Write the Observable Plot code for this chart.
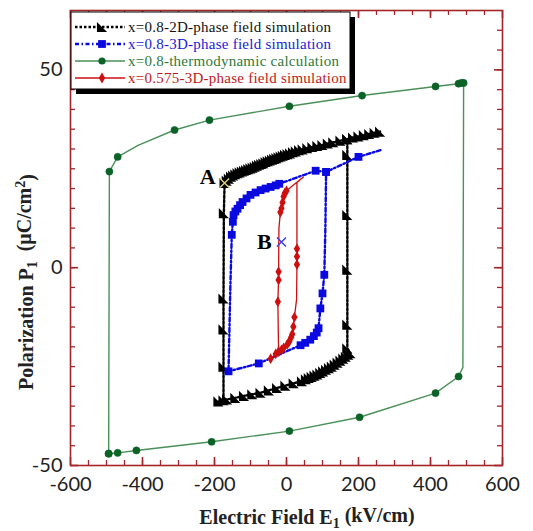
<!DOCTYPE html>
<html>
<head>
<meta charset="utf-8">
<script src="https://cdn.jsdelivr.net/npm/d3@7"></script>
<script src="https://cdn.jsdelivr.net/npm/@observablehq/plot@0.6"></script>
<style>
  html, body { margin: 0; padding: 0; background: #fff; }
  #chart { width: 533px; height: 531px; }
</style>
</head>
<body>
<div id="chart"></div>
<script>
// ---------------- DATA ----------------
const seriesNames = [
  "x=0.8-2D-phase field simulation",
  "x=0.8-3D-phase field simulation",
  "x=0.8-thermodynamic calculation",
  "x=0.575-3D-phase field simulation"
];

// x=0.8 2D phase field (black, triangles) - path order
const twoDE = [260,245,230,215,200,185,169,
  169,169,169,169,169,
  178,172,165,158,150,142,134,126,118,110,102,94,86,78,70,62,54,43,20,-3,-26,-49,-72,-95,-118,-142,-165,-189,
  -175,-175,-175,-175,-174,-172,
  -166,-160,-154,-148,-142,-136,-130,-124,-118,-112,-106,-100,-94,-88,-82,-76,-70,-64,-58,-52,-46,-40,-34,-28,-22,-16,-10,-4,3,10,18,26,35,45,58,72,86,100,115,130,150,169];
const twoDP = [34.4,34.1,33.8,33.5,33.2,32.9,32.5,
  28.5,13.3,-0.5,-14.4,-20.4,
  -21.6,-22,-22.5,-23,-23.5,-24,-24.5,-25,-25.4,-25.8,-26.2,-26.6,-27,-27.3,-27.6,-27.9,-28.2,-28.7,-29.2,-29.8,-30.4,-31,-31.6,-32,-32.4,-32.9,-33.3,-33.8,
  -33.5,-25,-15.6,-7.8,13.8,21.4,
  22,22.5,23,23.3,23.6,23.9,24.1,24.3,24.5,24.7,24.9,25.1,25.3,25.5,25.8,26,26.2,26.4,26.7,26.9,27.1,27.3,27.5,27.7,27.9,28.1,28.3,28.5,28.7,28.9,29.2,29.4,29.7,29.9,30.2,30.5,30.8,31,31.4,31.7,32.1,32.5];

// x=0.8 3D phase field (blue, squares) - path order
const threeDE = [261,200,110,108,105,100,94,89,84,76,66,52,39,-77,-161,-156,-152,-149,-147,-142,-136,-129,-122,-111,-100,-86,-72,-58,-44,-30,-20,81,110];
const threeDP = [29.7,28,24.2,10,-1.8,-6.5,-10.3,-15.3,-16.4,-17.3,-18.2,-19,-19.6,-24.2,-26.2,-5,8.3,11.6,13.3,14.2,14.9,15.8,16.6,17.5,18.4,19,19.6,20,20.4,20.8,21.2,24.5,24.2];
const threeDMarked = [0,1,1,0,1,1,1,1,1,1,1,1,1,1,1,0,1,1,1,1,1,1,1,1,1,1,1,1,1,1,1,1,1];

// x=0.8 thermodynamic (green, circles) - path order
const thermoE = [-494,-492,-469,-411,-311,-214,8,210,414,478,486,492,490,478,414,203,8,-208,-417,-469,-494];
const thermoP = [-47,24.3,28,31,34.8,37.3,40.8,43.5,45.8,46.5,46.7,46.7,-25.2,-27.5,-31.7,-37.8,-41.3,-44,-46.2,-46.8,-47];
const thermoMarked = [1,1,1,0,1,1,1,1,1,1,1,1,0,1,1,1,1,1,1,1,1];

// x=0.575 3D phase field (red, diamonds) - path order
const lowXE = [-44,-30,-22,-14,-8,2,8,13,16,19,22,28,29,29,29,29,47,15,0,-5,-8,-11,-14,-17,-21,-22,-22,-24,-22];
const lowXP = [-23,-21.8,-21.2,-20.8,-20.3,-19.4,-18.6,-17.6,-16.8,-14.9,-12.5,-8,0.8,2.8,4.8,21.5,22.9,20.6,19.4,18.8,18,16.5,15,14,10,-1,-3.1,-8.6,-21.2];
const lowXMarked = [1,1,1,1,1,1,1,1,1,1,1,0,1,1,1,0,0,0,1,1,1,1,1,1,0,1,1,1,0];

// annotations
const annLabels = ["A", "B"];
const annE = [-172, -14];
const annP = [21.4, 6.5];

// axes
const xTickLabels = [-600, -400, -200, 0, 200, 400, 600];
const yTickLabels = [-50, 0, 50];
const xMinorTicks = d3.range(-550, 600, 50);
const yMinorTicks = d3.range(-45, 65, 5);

// ---------------- STYLE / LAYOUT ----------------
const W = 533, H = 531, mL = 70, mR = 31, mT = 10, mB = 66;
const fw = W - mL - mR, fh = H - mT - mB;
const axisColor = "#a3262a";
const colBlack = "#000000", colBlue = "#0a0ae0", colGreenLine = "#4a9058", colGreenDot = "#0b6326", colRed = "#cc1010";
const dashBlack = "2.5,2", dashBlue = "4,2.5,1.5,2.5";

const rows = (E, P, marked) => E.map((e, i) => ({E: e, P: P[i], m: marked ? !!marked[i] : true}));
const twoD = rows(twoDE, twoDP);
const threeD = rows(threeDE, threeDP, threeDMarked);
const thermo = rows(thermoE, thermoP, thermoMarked);
const lowX = rows(lowXE, lowXP, lowXMarked);
const ann = annLabels.map((l, i) => ({label: l, E: annE[i], P: annP[i]}));

// custom right-triangle marker (like the original)
const triSymbol = {
  draw(ctx, size) {
    const a = Math.sqrt(size) / 1.75;
    ctx.moveTo(-a, -a);
    ctx.lineTo(-a, a);
    ctx.lineTo(a, a);
    ctx.closePath();
  }
};

const tickLenMajor = 8, tickLenMinor = 5;
const serif = "'Liberation Serif', 'Times New Roman', serif";

const chart = Plot.plot({
  width: W, height: H,
  marginLeft: mL, marginRight: mR, marginTop: mT, marginBottom: mB,
  style: {fontFamily: "Lato, sans-serif", fontSize: "20px", background: "#fff", color: "#222"},
  x: {domain: [-600, 600]},
  y: {domain: [-50, 65]},
  marks: [
    // inward ticks on all four sides
    Plot.tickX(xMinorTicks, {x: d => d, insetTop: fh - tickLenMinor, stroke: axisColor, strokeWidth: 1.3}),
    Plot.tickX(xMinorTicks, {x: d => d, insetBottom: fh - tickLenMinor, stroke: axisColor, strokeWidth: 1.3}),
    Plot.tickX(xTickLabels, {x: d => d, insetTop: fh - tickLenMajor, stroke: axisColor, strokeWidth: 1.6}),
    Plot.tickX(xTickLabels, {x: d => d, insetBottom: fh - tickLenMajor, stroke: axisColor, strokeWidth: 1.6}),
    Plot.tickY(yMinorTicks, {y: d => d, insetRight: fw - tickLenMinor, stroke: axisColor, strokeWidth: 1.3}),
    Plot.tickY(yMinorTicks, {y: d => d, insetLeft: fw - tickLenMinor, stroke: axisColor, strokeWidth: 1.3}),
    Plot.tickY(yTickLabels, {y: d => d, insetRight: fw - tickLenMajor, stroke: axisColor, strokeWidth: 1.6}),
    Plot.tickY(yTickLabels, {y: d => d, insetLeft: fw - tickLenMajor, stroke: axisColor, strokeWidth: 1.6}),
    Plot.axisX(xTickLabels, {tickSize: 0, tickPadding: 11, label: null, tickFormat: d => String(d), fill: "#222"}),
    Plot.axisY(yTickLabels, {tickSize: 0, tickPadding: 8, label: null, tickFormat: d => String(d), fill: "#222"}),

    // thermodynamic (green)
    Plot.line(thermo, {x: "E", y: "P", stroke: colGreenLine, strokeWidth: 1.4}),
    Plot.dot(thermo.filter(d => d.m), {x: "E", y: "P", r: 3.6, fill: colGreenDot, stroke: colGreenDot, strokeWidth: 0.5}),

    // 2D (black)
    Plot.line(twoD, {x: "E", y: "P", stroke: colBlack, strokeWidth: 2.4, strokeDasharray: dashBlack}),
    Plot.dot(twoD, {x: "E", y: "P", symbol: triSymbol, r: 5, fill: colBlack, stroke: "none"}),

    // 3D (blue)
    Plot.line(threeD, {x: "E", y: "P", stroke: colBlue, strokeWidth: 2.4, strokeDasharray: dashBlue}),
    Plot.dot(threeD.filter(d => d.m), {x: "E", y: "P", symbol: "square", r: 4.4, fill: colBlue, stroke: "none"}),

    // x=0.575 (red)
    Plot.line(lowX, {x: "E", y: "P", stroke: colRed, strokeWidth: 1.3}),
    Plot.dot(lowX.filter(d => d.m), {x: "E", y: "P", symbol: "diamond", r: 3.3, fill: colRed, stroke: "none"}),

    // annotation crosses and labels
    Plot.dot(ann, {x: "E", y: "P", symbol: "times", r: 4.2, stroke: d => d.label === "A" ? "#dcd67e" : "#3a3af0", strokeWidth: 1.4}),
    Plot.text(ann.filter(d => d.label === "A"), {x: "E", y: "P", text: "label", dx: -17, dy: -6, fontFamily: serif, fontWeight: "bold", fontSize: 22, fill: "#000"}),
    Plot.text(ann.filter(d => d.label === "B"), {x: "E", y: "P", text: "label", dx: -17, dy: 0, fontFamily: serif, fontWeight: "bold", fontSize: 22, fill: "#000"}),

    Plot.frame({stroke: axisColor, strokeWidth: 1.6})
  ]
});

document.getElementById("chart").appendChild(chart);

// ---------------- Post: legend + axis titles ----------------
const svg = d3.select(chart);

const lg = svg.append("g").attr("class", "legend");
const bx = 71, by = 12, bw = 279, bh = 77;
lg.append("rect").attr("x", bx + 5).attr("y", by + 5).attr("width", bw).attr("height", bh).attr("fill", "#000");
lg.append("rect").attr("x", bx).attr("y", by).attr("width", bw).attr("height", bh).attr("fill", "#fff").attr("stroke", "#000").attr("stroke-width", 1);

const legendStyles = [
  {color: colBlack, dash: dashBlack, w: 2.4, sym: triSymbol, size: 5 * 5 * Math.PI, markColor: colBlack},
  {color: colBlue, dash: dashBlue, w: 2.4, sym: d3.symbolSquare, size: 4.4 * 4.4 * Math.PI, markColor: colBlue},
  {color: colGreenLine, dash: null, w: 1.4, sym: d3.symbolCircle, size: 3.6 * 3.6 * Math.PI, markColor: colGreenDot},
  {color: colRed, dash: null, w: 1.4, sym: d3.symbolDiamond, size: 3.3 * 3.3 * Math.PI, markColor: colRed}
];
const textColors = ["#111", "#1a1ad8", "#2f7a3a", "#c01818"];
seriesNames.forEach((name, i) => {
  const y = by + 15 + i * 17;
  const st = legendStyles[i];
  lg.append("line").attr("x1", bx + 4).attr("x2", bx + 54).attr("y1", y).attr("y2", y)
    .attr("stroke", st.color).attr("stroke-width", st.w).attr("stroke-dasharray", st.dash);
  lg.append("path").attr("d", d3.symbol(st.sym, st.size)()).attr("transform", `translate(${bx + 31},${y})`).attr("fill", st.markColor);
  lg.append("text").attr("x", bx + 57).attr("y", y).attr("dy", "0.32em").attr("text-anchor", "start")
    .style("font-family", serif).style("font-size", "15px").style("letter-spacing", "0.25px")
    .attr("fill", textColors[i]).text(name);
});

// axis titles
const xt = svg.append("text").attr("x", mL + fw / 2 + 21).attr("y", 524).attr("text-anchor", "middle")
  .style("font-family", serif).style("font-weight", "bold").style("font-size", "20px").attr("fill", "#222");
xt.append("tspan").text("Electric Field E");
xt.append("tspan").attr("dy", "0.3em").style("font-size", "14px").text("1");
xt.append("tspan").attr("dy", "-0.3em").text(" (kV/cm)");

const yt = svg.append("text").attr("transform", `translate(33,${282}) rotate(-90)`).attr("text-anchor", "middle")
  .style("font-family", serif).style("font-weight", "bold").style("font-size", "20px").attr("fill", "#222");
yt.append("tspan").text("Polarization P");
yt.append("tspan").attr("dy", "0.3em").style("font-size", "14px").text("1");
yt.append("tspan").attr("dy", "-0.3em").text("\u00a0\u00a0(\u03bcC/cm");
yt.append("tspan").attr("dy", "-0.45em").style("font-size", "14px").text("2");
yt.append("tspan").attr("dy", "0.45em").text(")");
</script>
</body>
</html>
